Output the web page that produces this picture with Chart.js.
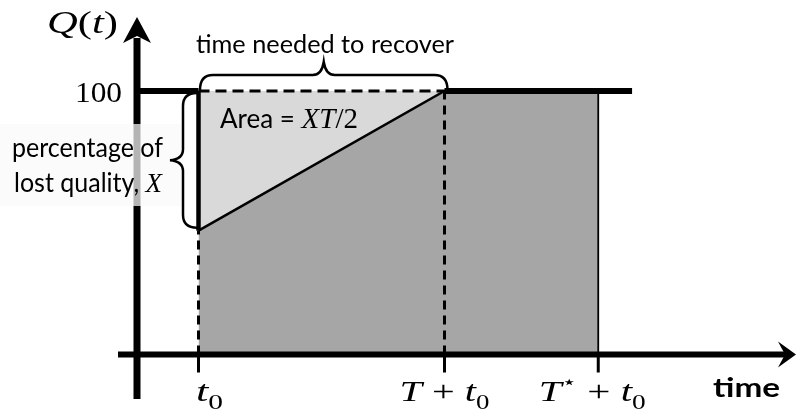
<!DOCTYPE html>
<html><head><meta charset="utf-8">
<script src="https://cdn.jsdelivr.net/npm/chart.js@4/dist/chart.umd.min.js"></script>
<style>html,body{margin:0;padding:0;background:#fff;}#wrap{width:797px;height:413px;}</style>
</head><body><div id="wrap"><canvas id="c" width="797" height="413"></canvas></div>
<script>
// ---------- data ----------
const eventTimes = [1, 5, 7.5];          // t0, T+t0, T*+t0
const qualityValues = [47, 100, 100];    // Q(t) at those times
const fullQuality = 100;
const tickLabels = [
  [['t','i'],['0','s']],
  [['T','i'],[' + ','u'],['t','i'],['0','s']],
  [['T','i'],['\u22C6','sup'],[' + ','u'],['t','i'],['0','s']]
];
const yTickValues = [100];
const yTickLabels = ['100'];
const xAxisTitle = 'time';
const braceTopText = 'time needed to recover';
const lostTextLines = ['percentage of', 'lost quality, '];

// ---------- layout / style ----------
const X0PX = 137, XUNIT = 61.5, Y0PX = 354.5, YUNIT = 2.635;
const W = 797, H = 413;
const fullLineEnd = 8.05;
const SANS = 'Lato, "Open Sans", "Liberation Sans", sans-serif';
const SERIF = '"Liberation Serif", "DejaVu Serif", serif';

const t0 = eventTimes[0], tRec = eventTimes[1], tStar = eventTimes[2];
const qMin = qualityValues[0];
const pts = (xs, ys) => xs.map((x, i) => ({x, y: ys[i]}));

const datasets = [
  {data: [{x:t0,y:0},{x:t0,y:qMin}], borderColor:'#000', borderWidth:3, borderDash:[9,6]},
  {data: [{x:tRec,y:0},{x:tRec,y:fullQuality}], borderColor:'#000', borderWidth:3, borderDash:[9,6]},
  {data: [{x:t0,y:fullQuality},{x:tRec,y:fullQuality}], borderColor:'#000', borderWidth:3, borderDash:[11,6]},
  {data: [{x:t0,y:qMin},{x:t0,y:fullQuality}], borderColor:'#000', borderWidth:4.5},
  {data: [{x:0,y:fullQuality},{x:t0,y:fullQuality},{x:(t0+tRec)/2,y:null},{x:tRec,y:fullQuality},{x:fullLineEnd,y:fullQuality}], borderColor:'#000', borderWidth:6, spanGaps:false},
  {data: [{x:tStar,y:0},{x:tStar,y:fullQuality}], borderColor:'#000', borderWidth:1.8},
  {data: pts(eventTimes, qualityValues), borderColor:'#000', borderWidth:2.5, fill:'origin', backgroundColor:'#a6a6a6'},
  {data: pts(eventTimes.slice(0,2), qualityValues.slice(0,2)), borderWidth:0, borderColor:'rgba(0,0,0,0)', fill:{value:fullQuality}, backgroundColor:'#d9d9d9'}
];

function runFont(kind){
  switch(kind){
    case 'i': return 'italic 30px ' + SERIF;
    case 'u': return '30px ' + SERIF;
    case 's': return '20px ' + SERIF;
    case 'sup': return '18px "DejaVu Sans", sans-serif';
  }
}
function runDy(kind){ return kind==='s' ? 8 : kind==='sup' ? -13 : 0; }

function drawRuns(c, runs, x, y, align, target){
  let w = 0;
  for (const r of runs){ c.font = r.f; w += c.measureText(r.t).width; }
  const sx = target ? target / w : 1;
  const ww = w * sx;
  const x0 = align === 'center' ? x - ww/2 : align === 'right' ? x - ww : x;
  c.save(); c.translate(x0, y); c.scale(sx, 1);
  let cx = 0;
  for (const r of runs){ c.font = r.f; c.fillText(r.t, cx, r.dy || 0); cx += c.measureText(r.t).width; }
  c.restore();
}

const diagram = {
  id: 'diagram',
  afterDatasetsDraw(chart){
    const c = chart.ctx, xs = chart.scales.x, ys = chart.scales.y;
    const X = v => xs.getPixelForValue(v), Y = v => ys.getPixelForValue(v);
    const ax = X(0), ay = Y(0);
    c.save();
    c.fillStyle = '#000'; c.strokeStyle = '#000'; c.lineCap = 'butt';
    // x axis
    c.lineWidth = 6;
    c.beginPath(); c.moveTo(ax - 19, ay); c.lineTo(W - 12, ay); c.stroke();
    const tx = W - 1;
    c.beginPath(); c.moveTo(tx, ay); c.lineTo(tx - 18, ay - 13); c.lineTo(tx - 11, ay); c.lineTo(tx - 18, ay + 13); c.closePath(); c.fill();
    // y axis
    c.lineWidth = 7;
    c.beginPath(); c.moveTo(ax, ay + 44.5); c.lineTo(ax, 38); c.stroke();
    c.beginPath(); c.moveTo(ax, 17); c.lineTo(ax + 14, 43); c.lineTo(ax, 36); c.lineTo(ax - 14, 43); c.closePath(); c.fill();
    // ticks
    c.lineWidth = 3;
    eventTimes.forEach(t => { c.beginPath(); c.moveTo(X(t), ay); c.lineTo(X(t), ay + 18); c.stroke(); });
    // tick labels
    const lblDx = [11, 0, -6], lblW = [27, 90, 107];
    c.textBaseline = 'alphabetic';
    eventTimes.forEach((t, i) => {
      const runs = tickLabels[i].map(([s, k]) => ({t: s, f: runFont(k), dy: runDy(k)}));
      drawRuns(c, runs, X(t) + lblDx[i], 401, 'center', lblW[i]);
    });
    drawRuns(c, [{t: xAxisTitle, f: 'bold 26px ' + SANS}], 746.5, 397, 'center', 67);
    // y tick label
    yTickValues.forEach((v, i) => drawRuns(c, [{t: yTickLabels[i], f: '30px ' + SERIF}], 122, Y(v) + 11, 'right', 47));
    // y title Q(t)
    drawRuns(c, [{t:'Q', f:'italic 32px ' + SERIF}, {t:'(', f:'32px ' + SERIF}, {t:'t', f:'italic 32px ' + SERIF}, {t:')', f:'32px ' + SERIF}], 47, 33, 'left', 71);
    // translucent text box
    c.fillStyle = 'rgba(250,250,250,0.72)';
    c.fillRect(0, 124, 181, 82);
    c.fillStyle = '#000';
    // top brace
    c.lineWidth = 2.5;
    const x1 = X(t0) + 1.5, x2 = X(tRec) + 3, yb = Y(fullQuality) - 1, yh = 75, ytip = 62, xm = (x1 + x2) / 2;
    c.beginPath();
    c.moveTo(x1, yb); c.quadraticCurveTo(x1, yh, x1 + 13, yh); c.lineTo(xm - 11, yh);
    c.quadraticCurveTo(xm - 2, yh, xm, ytip); c.quadraticCurveTo(xm + 2, yh, xm + 11, yh);
    c.lineTo(x2 - 13, yh); c.quadraticCurveTo(x2, yh, x2, yb); c.stroke();
    // left brace
    const xb = X(t0) - 1.5, xv = 183, xt = 170, y1 = Y(fullQuality) + 2, y2 = Y(qMin) - 3, ym = (y1 + y2) / 2;
    c.beginPath();
    c.moveTo(xb, y1); c.quadraticCurveTo(xv, y1, xv, y1 + 13); c.lineTo(xv, ym - 11);
    c.quadraticCurveTo(xv, ym - 1, xt, ym); c.quadraticCurveTo(xv, ym + 1, xv, ym + 11);
    c.lineTo(xv, y2 - 13); c.quadraticCurveTo(xv, y2, xb, y2); c.stroke();
    // texts
    drawRuns(c, [{t: braceTopText, f: '25px ' + SANS}], 196, 53, 'left', 258);
    drawRuns(c, [{t:'Area = ', f:'26px ' + SANS}, {t:'XT', f:'italic 29px ' + SERIF}, {t:'/2', f:'29px ' + SERIF}], 220, 128, 'left', 138);
    drawRuns(c, [{t: lostTextLines[0], f:'26px ' + SANS}], 12, 157, 'left', 151);
    drawRuns(c, [{t: lostTextLines[1], f:'26px ' + SANS}, {t:'X', f:'italic 28px ' + SERIF}], 14, 192, 'left', 148);
    c.restore();
  }
};

new Chart(document.getElementById('c'), {
  type: 'line',
  data: { datasets: datasets.map(d => Object.assign({pointRadius: 0, tension: 0}, d)) },
  options: {
    responsive: false, animation: false,
    layout: { padding: 0 },
    plugins: { legend: { display: false }, tooltip: { enabled: false } },
    scales: {
      x: { type: 'linear', display: false, min: -X0PX / XUNIT, max: (W - X0PX) / XUNIT },
      y: { type: 'linear', display: false, min: -(H - Y0PX) / YUNIT, max: Y0PX / YUNIT }
    }
  },
  plugins: [diagram]
});
</script></body></html>
